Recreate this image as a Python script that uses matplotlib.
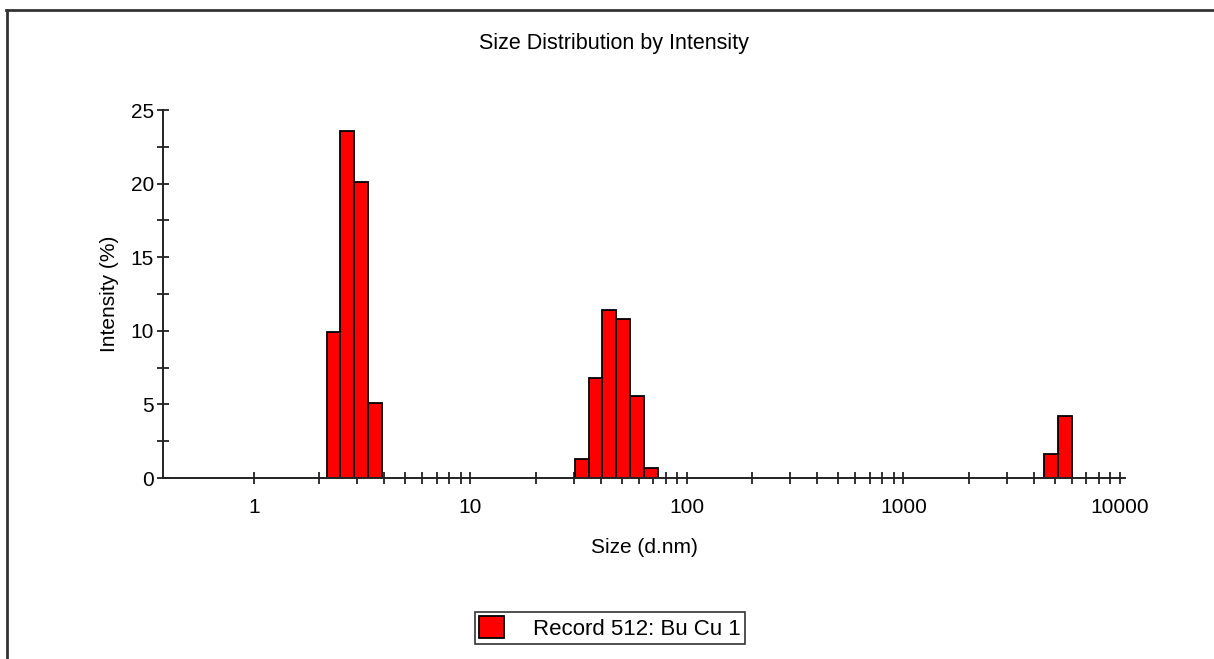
import numpy as np
import matplotlib
matplotlib.use("Agg")
import matplotlib.pyplot as plt
from matplotlib.lines import Line2D

plt.rcParams['font.family'] = ['Liberation Sans', 'DejaVu Sans']

# Size classes (d.nm) that carry intensity, and their intensity (%)
sizes = [2.328, 2.696, 3.122, 3.615,
         32.67, 37.84, 43.82, 50.75, 58.77, 68.06,
         4801, 5560]
intensity = [9.9, 23.6, 20.1, 5.1,
             1.3, 6.8, 11.4, 10.8, 5.6, 0.7,
             1.6, 4.2]
record_label = "Record 512: Bu Cu 1"

# Size classes are spaced by a constant ratio on the log axis
ratio = 1.1581
half = np.sqrt(ratio)
left_edges = [s / half for s in sizes]
widths = [s * half - s / half for s in sizes]

fig = plt.figure(figsize=(12.14, 6.59), dpi=100)
ax = fig.add_axes([163 / 1214, 1 - 478 / 659, (1125 - 163) / 1214, (478 - 110) / 659])

ax.bar(left_edges, intensity, width=widths, align='edge',
       color='#ff0000', edgecolor='black', linewidth=1.3,
       label=record_label, zorder=2)

ax.set_xscale('log')
ax.set_xlim(0.38, 10550)
ax.set_ylim(0, 25)

ax.set_xticks([1, 10, 100, 1000, 10000])
ax.set_xticklabels(['1', '10', '100', '1000', '10000'])
minor_x = [m * d for d in (1, 10, 100, 1000) for m in range(2, 10)]
ax.set_xticks(minor_x, minor=True)
ax.set_xticklabels([], minor=True)
ax.set_yticks([0, 5, 10, 15, 20, 25])
ax.set_yticks(np.arange(0, 25.1, 2.5), minor=True)

for side in ('top', 'right'):
    ax.spines[side].set_visible(False)
for side in ('left', 'bottom'):
    ax.spines[side].set_linewidth(1.4)
    ax.spines[side].set_color('#222222')

ax.tick_params(which='both', direction='inout', length=9, width=1.3,
               color='#222222', labelsize=15)
ax.tick_params(axis='x', which='both', pad=10)
ax.tick_params(axis='y', which='both', pad=2)

ax.set_xlabel('Size (d.nm)', fontsize=15, labelpad=15)
ax.set_ylabel('Intensity (%)', fontsize=15, labelpad=8)

fig.text(614 / 1214, 1 - 44 / 659, 'Size Distribution by Intensity',
         fontsize=15.5, ha='center', va='center')

leg = fig.legend(loc='center', bbox_to_anchor=(610 / 1214, 1 - 628 / 659),
                 fontsize=16, frameon=True, fancybox=False, shadow=False,
                 handlelength=1.1, handleheight=1.1, handletextpad=1.3,
                 borderpad=0.2, borderaxespad=0)
leg.get_frame().set_edgecolor('black')
leg.get_frame().set_linewidth(1.2)

# Outer page frame (top and left edges)
fig.add_artist(Line2D([6 / 1214, 1.0], [1 - 10 / 659, 1 - 10 / 659],
                      transform=fig.transFigure, color='#333333', linewidth=2))
fig.add_artist(Line2D([7 / 1214, 7 / 1214], [0.0, 1 - 10 / 659],
                      transform=fig.transFigure, color='#333333', linewidth=2))

fig.savefig('out.png', dpi=100)
